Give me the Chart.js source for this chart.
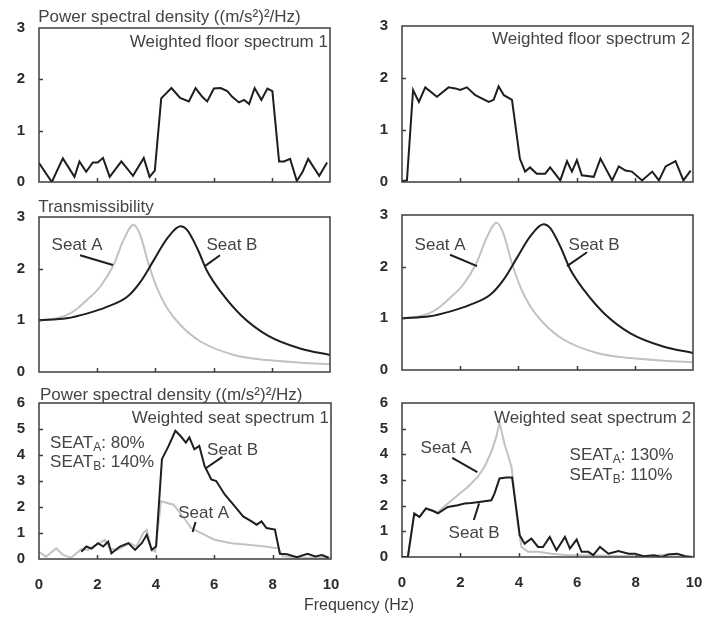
<!DOCTYPE html>
<html>
<head>
<meta charset="utf-8">
<script src="https://cdn.jsdelivr.net/npm/chart.js@4.4.1/dist/chart.umd.min.js"></script>
<style>
  body { margin: 0; background: #fff; }
  #wrap { position: relative; width: 704px; height: 619px; overflow: hidden; }
  #wrap canvas { position: absolute; left: 0; top: 0; }
  #freq {
    position: absolute; left: 259px; width: 200px; top: 596px;
    text-align: center; font: 16px "Liberation Sans", Arial, sans-serif; color: #3c3c3c;
  }
</style>
</head>
<body>
<div id="wrap">
  <canvas id="p1" width="760" height="619"></canvas>
  <canvas id="p2" width="760" height="619"></canvas>
  <canvas id="p3" width="760" height="619"></canvas>
  <canvas id="p4" width="760" height="619"></canvas>
  <canvas id="p5" width="760" height="619"></canvas>
  <canvas id="p6" width="760" height="619"></canvas>
  <div id="freq">Frequency (Hz)</div>
</div>
<script>
// 頻率軸刻度
const freqTicks = [0, 2, 4, 6, 8, 10];

// 地板頻譜 1
const floor1Hz  = [0, 0.44, 0.82, 1.22, 1.39, 1.62, 1.85, 2.02, 2.2, 2.43, 2.83, 3.23, 3.6, 3.8, 3.98, 4.2, 4.55, 4.85, 5.15, 5.38, 5.61, 5.78, 6.01, 6.24, 6.47, 6.64, 6.87, 7.05, 7.22, 7.41, 7.64, 7.85, 8.02, 8.25, 8.42, 8.63, 8.86, 9.06, 9.25, 9.63, 9.9];
const floor1Psd = [0.37, 0, 0.46, 0.1, 0.4, 0.2, 0.38, 0.38, 0.47, 0.1, 0.4, 0.12, 0.47, 0.1, 0.22, 1.63, 1.83, 1.64, 1.57, 1.83, 1.66, 1.57, 1.82, 1.83, 1.77, 1.66, 1.55, 1.6, 1.52, 1.83, 1.6, 1.82, 1.77, 0.4, 0.4, 0.45, 0.02, 0.2, 0.45, 0.12, 0.38];

// 地板頻譜 2
const floor2Hz  = [0, 0.17, 0.38, 0.58, 0.8, 1.2, 1.6, 1.83, 2.0, 2.23, 2.52, 2.98, 3.15, 3.32, 3.5, 3.78, 4.05, 4.23, 4.4, 4.63, 4.92, 5.09, 5.44, 5.67, 5.84, 6.01, 6.18, 6.59, 6.82, 7.22, 7.45, 7.68, 7.9, 8.25, 8.6, 8.83, 9.06, 9.4, 9.67, 9.92];
const floor2Psd = [0.02, 0.03, 1.77, 1.54, 1.82, 1.64, 1.82, 1.8, 1.77, 1.82, 1.67, 1.54, 1.58, 1.84, 1.67, 1.58, 0.45, 0.2, 0.28, 0.16, 0.16, 0.28, 0.03, 0.4, 0.2, 0.42, 0.13, 0.1, 0.45, 0.03, 0.3, 0.22, 0.2, 0.03, 0.2, 0.03, 0.3, 0.4, 0.03, 0.22];

// 傳遞率
const transAHz  = [0, 0.5, 0.95, 1.3, 1.64, 2.1, 2.56, 2.9, 3.25, 3.48, 3.77, 4.06, 4.4, 4.86, 5.55, 6.7, 7.85, 9.0, 10];
const transA    = [1.0, 1.03, 1.1, 1.22, 1.39, 1.65, 2.07, 2.55, 2.85, 2.65, 2.08, 1.62, 1.24, 0.91, 0.59, 0.33, 0.23, 0.18, 0.15];
const transBHz  = [0, 0.95, 1.64, 2.33, 3.02, 3.48, 3.94, 4.4, 4.86, 5.1, 5.44, 5.79, 6.25, 6.94, 7.85, 9.0, 10];
const transB    = [1.0, 1.04, 1.13, 1.26, 1.45, 1.74, 2.16, 2.58, 2.82, 2.74, 2.39, 1.94, 1.55, 1.1, 0.71, 0.45, 0.33];

// 座椅頻譜 1
const seat1BHz  = [1.45, 1.62, 1.8, 2.02, 2.2, 2.37, 2.48, 2.77, 3.06, 3.29, 3.52, 3.69, 3.86, 4.01, 4.21, 4.44, 4.67, 4.84, 5.03, 5.15, 5.32, 5.49, 5.67, 5.9, 6.07, 6.36, 6.7, 6.99, 7.28, 7.45, 7.62, 7.79, 8.08, 8.25, 8.5, 8.83, 9.2, 9.46, 9.69, 9.92];
const seat1BPsd = [0.28, 0.48, 0.4, 0.61, 0.48, 0.67, 0.22, 0.48, 0.61, 0.35, 0.61, 0.93, 0.35, 0.48, 3.84, 4.35, 4.93, 4.74, 4.48, 4.68, 4.22, 4.35, 3.58, 3.06, 3.0, 2.48, 2.03, 1.64, 1.45, 1.32, 1.45, 1.19, 1.13, 0.2, 0.18, 0.07, 0.2, 0.1, 0.15, 0.05];
const seat1AHz  = [0, 0.24, 0.59, 0.82, 1.1, 1.45, 1.68, 1.85, 2.08, 2.25, 2.42, 2.66, 2.89, 3.11, 3.34, 3.57, 3.69, 3.86, 3.98, 4.18, 4.61, 5.01, 5.21, 5.67, 6.01, 6.59, 7.16, 7.73, 8.2, 8.35, 9.0, 10];
const seat1APsd = [0.28, 0.09, 0.41, 0.16, 0.05, 0.38, 0.35, 0.48, 0.61, 0.74, 0.41, 0.35, 0.48, 0.61, 0.48, 1.0, 1.12, 0.35, 0.28, 2.22, 2.09, 1.51, 1.19, 0.93, 0.74, 0.61, 0.55, 0.48, 0.41, 0.1, 0.05, 0.05];

// 座椅頻譜 2
const seat2BHz  = [0, 0.2, 0.42, 0.6, 0.82, 1.05, 1.23, 1.57, 1.91, 2.14, 2.37, 2.71, 3.06, 3.17, 3.34, 3.57, 3.77, 3.98, 4.03, 4.2, 4.43, 4.66, 4.83, 5.06, 5.29, 5.58, 5.75, 5.98, 6.15, 6.38, 6.55, 6.78, 7.07, 7.41, 7.76, 7.98, 8.27, 8.62, 8.9, 9.13, 9.42, 9.7, 9.93];
const seat2BPsd = [0, 0, 1.7, 1.56, 1.89, 1.8, 1.7, 1.95, 2.02, 2.08, 2.1, 2.15, 2.21, 2.48, 3.06, 3.1, 3.1, 1.3, 0.85, 0.52, 0.72, 0.39, 0.39, 0.78, 0.26, 0.78, 0.33, 0.68, 0.2, 0.2, 0.07, 0.39, 0.13, 0.23, 0.13, 0.13, 0.03, 0.07, 0, 0.1, 0.13, 0.03, 0];
const seat2AHz  = [0, 0.2, 0.42, 0.6, 0.82, 1.05, 1.23, 1.57, 1.91, 2.25, 2.6, 2.83, 3.06, 3.23, 3.34, 3.52, 3.75, 3.98, 4.09, 4.32, 4.66, 5.12, 5.69, 6.27, 7.41, 8.56, 9.2, 9.93];
const seat2APsd = [0, 0, 1.7, 1.56, 1.89, 1.8, 1.75, 2.08, 2.41, 2.73, 3.13, 3.52, 4.1, 4.69, 5.25, 4.36, 3.52, 1.17, 0.39, 0.2, 0.2, 0.13, 0.07, 0.07, 0.04, 0.04, 0.12, 0];

const FONT = '"Liberation Sans", Arial, sans-serif';
const BLACK = '#1e1e1e';
const GRAY = '#c2c2c2';
const TEXT = '#444444';
const NOTE_SIZE = 17;
const SUB_SIZE = 12;
const CANVAS_W = 760;
const CANVAS_H = 619;
const Y_W = 39;     // y 軸寬度
const X_H = 40;     // x 軸高度（僅底列）
const PSD_TITLE = 'Power spectral density ((m/s²)²/Hz)';

function pts(xs, ys) {
    return xs.map((x, i) => ({ x: x, y: ys[i] }));
}

function line(data, color, smooth) {
    return {
        data: data,
        borderColor: color,
        borderWidth: 2,
        pointRadius: 0,
        fill: false,
        tension: smooth ? 0.4 : 0,
        cubicInterpolationMode: smooth ? 'monotone' : 'default'
    };
}

// 繪製邊框、內側刻度與註記
const framePlugin = {
    id: 'frame',
    afterDraw(chart) {
        const ctx = chart.ctx;
        const a = chart.chartArea;
        const xs = chart.scales.x;
        const ys = chart.scales.y;
        const notes = chart.options.plugins.frame.notes || [];
        const leaders = chart.options.plugins.frame.leaders || [];

        ctx.save();
        ctx.strokeStyle = '#3c3c3c';
        ctx.lineWidth = 1.5;
        ctx.strokeRect(a.left, a.top, a.right - a.left, a.bottom - a.top);

        ctx.beginPath();
        freqTicks.slice(1, -1).forEach(v => {
            const px = Math.round(xs.getPixelForValue(v)) + 0.5;
            ctx.moveTo(px, a.bottom);
            ctx.lineTo(px, a.bottom - 4);
        });
        for (let v = 1; v < ys.max; v++) {
            const py = Math.round(ys.getPixelForValue(v)) + 0.5;
            ctx.moveTo(a.left, py);
            ctx.lineTo(a.left + 4, py);
        }
        ctx.stroke();

        // 引線
        ctx.strokeStyle = BLACK;
        ctx.lineWidth = 2;
        leaders.forEach(l => {
            ctx.beginPath();
            ctx.moveTo(xs.getPixelForValue(l[0]), ys.getPixelForValue(l[1]));
            ctx.lineTo(xs.getPixelForValue(l[2]), ys.getPixelForValue(l[3]));
            ctx.stroke();
        });

        // 文字
        ctx.fillStyle = TEXT;
        ctx.textBaseline = 'middle';
        notes.forEach(n => {
            const px = xs.getPixelForValue(n.x);
            const py = ys.getPixelForValue(n.y);
            const parts = n.parts || [[n.text, 0]];
            const widths = parts.map(p => {
                ctx.font = (p[1] ? SUB_SIZE : NOTE_SIZE) + 'px ' + FONT;
                return ctx.measureText(p[0]).width;
            });
            const total = widths.reduce((s, w) => s + w, 0);
            let cx = px;
            if (n.align === 'right') cx = px - total;
            else if (n.align === 'center') cx = px - total / 2;
            ctx.textAlign = 'left';
            parts.forEach((p, i) => {
                ctx.font = (p[1] ? SUB_SIZE : NOTE_SIZE) + 'px ' + FONT;
                ctx.fillText(p[0], cx, py + (p[1] ? 5 : 0));
                cx += widths[i];
            });
        });
        ctx.restore();
    }
};

function makePanel(id, box, yMax, showX, datasets, notes, leaders) {
    new Chart(document.getElementById(id), {
        type: 'line',
        data: { datasets: datasets },
        plugins: [framePlugin],
        options: {
            responsive: false,
            animation: false,
            devicePixelRatio: 1,
            layout: {
                padding: {
                    left: box.l - Y_W,
                    top: box.t,
                    right: CANVAS_W - box.r,
                    bottom: CANVAS_H - box.b - (showX ? X_H : 0)
                }
            },
            plugins: {
                legend: { display: false },
                tooltip: { enabled: false },
                frame: { notes: notes, leaders: leaders }
            },
            scales: {
                x: {
                    type: 'linear',
                    min: 0,
                    max: 10,
                    grid: { display: false, drawTicks: false },
                    border: { display: false },
                    afterBuildTicks: s => { s.ticks = freqTicks.map(v => ({ value: v })); },
                    afterFit: s => { s.height = showX ? X_H : 0; },
                    ticks: {
                        display: showX,
                        padding: 17,
                        maxRotation: 0,
                        color: '#2c2c2c',
                        font: { family: FONT, size: 15, weight: 'bold' }
                    }
                },
                y: {
                    min: 0,
                    max: yMax,
                    grid: { display: false, drawTicks: false },
                    border: { display: false },
                    afterFit: s => { s.width = Y_W; },
                    ticks: {
                        stepSize: 1,
                        padding: 14,
                        color: '#2c2c2c',
                        font: { family: FONT, size: 15, weight: 'bold' }
                    }
                }
            }
        }
    });
}

// 上列：地板頻譜
makePanel('p1', { l: 39, t: 28, r: 330, b: 182 }, 3, false,
    [line(pts(floor1Hz, floor1Psd), BLACK, false)],
    [
        { text: PSD_TITLE, x: -0.03, y: 3.21, align: 'left' },
        { text: 'Weighted floor spectrum 1', x: 9.93, y: 2.73, align: 'right' }
    ], []);

makePanel('p2', { l: 402, t: 26, r: 693, b: 182 }, 3, false,
    [line(pts(floor2Hz, floor2Psd), BLACK, false)],
    [
        { text: 'Weighted floor spectrum 2', x: 9.9, y: 2.75, align: 'right' }
    ], []);

// 中列：傳遞率
makePanel('p3', { l: 39, t: 217, r: 330, b: 372 }, 3, false,
    [line(pts(transBHz, transB), BLACK, true), line(pts(transAHz, transA), GRAY, true)],
    [
        { text: 'Transmissibility', x: -0.03, y: 3.19, align: 'left' },
        { text: 'Seat A', x: 1.31, y: 2.46, align: 'center' },
        { text: 'Seat B', x: 6.63, y: 2.46, align: 'center' }
    ],
    [[1.41, 2.26, 2.54, 2.07], [5.7, 2.05, 6.22, 2.26]]);

makePanel('p4', { l: 402, t: 215, r: 693, b: 370 }, 3, false,
    [line(pts(transBHz, transB), BLACK, true), line(pts(transAHz, transA), GRAY, true)],
    [
        { text: 'Seat A', x: 1.31, y: 2.42, align: 'center' },
        { text: 'Seat B', x: 6.6, y: 2.42, align: 'center' }
    ],
    [[1.65, 2.23, 2.58, 2.01], [5.67, 2.01, 6.36, 2.28]]);

// 下列：座椅頻譜
makePanel('p5', { l: 39, t: 403, r: 331, b: 559 }, 6, true,
    [line(pts(seat1BHz, seat1BPsd), BLACK, false), line(pts(seat1AHz, seat1APsd), GRAY, false)],
    [
        { text: PSD_TITLE, x: 0.03, y: 6.31, align: 'left' },
        { text: 'Weighted seat spectrum 1', x: 9.93, y: 5.42, align: 'right' },
        { parts: [['SEAT', 0], ['A', 1], [': 80%', 0]], x: 0.38, y: 4.46, align: 'left' },
        { parts: [['SEAT', 0], ['B', 1], [': 140%', 0]], x: 0.38, y: 3.73, align: 'left' },
        { text: 'Seat B', x: 6.63, y: 4.19, align: 'center' },
        { text: 'Seat A', x: 5.64, y: 1.77, align: 'center' }
    ],
    [[6.28, 3.93, 5.7, 3.48], [5.36, 1.42, 5.26, 1.04]]);

makePanel('p6', { l: 402, t: 403, r: 694, b: 557 }, 6, true,
    [line(pts(seat2BHz, seat2BPsd), BLACK, false), line(pts(seat2AHz, seat2APsd), GRAY, false)],
    [
        { text: 'Weighted seat spectrum 2', x: 9.9, y: 5.41, align: 'right' },
        { parts: [['SEAT', 0], ['A', 1], [': 130%', 0]], x: 5.74, y: 3.97, align: 'left' },
        { parts: [['SEAT', 0], ['B', 1], [': 110%', 0]], x: 5.74, y: 3.19, align: 'left' },
        { text: 'Seat A', x: 1.51, y: 4.25, align: 'center' },
        { text: 'Seat B', x: 2.47, y: 0.93, align: 'center' }
    ],
    [[1.72, 3.86, 2.58, 3.31], [2.46, 1.44, 2.64, 2.09]]);
</script>
</body>
</html>
